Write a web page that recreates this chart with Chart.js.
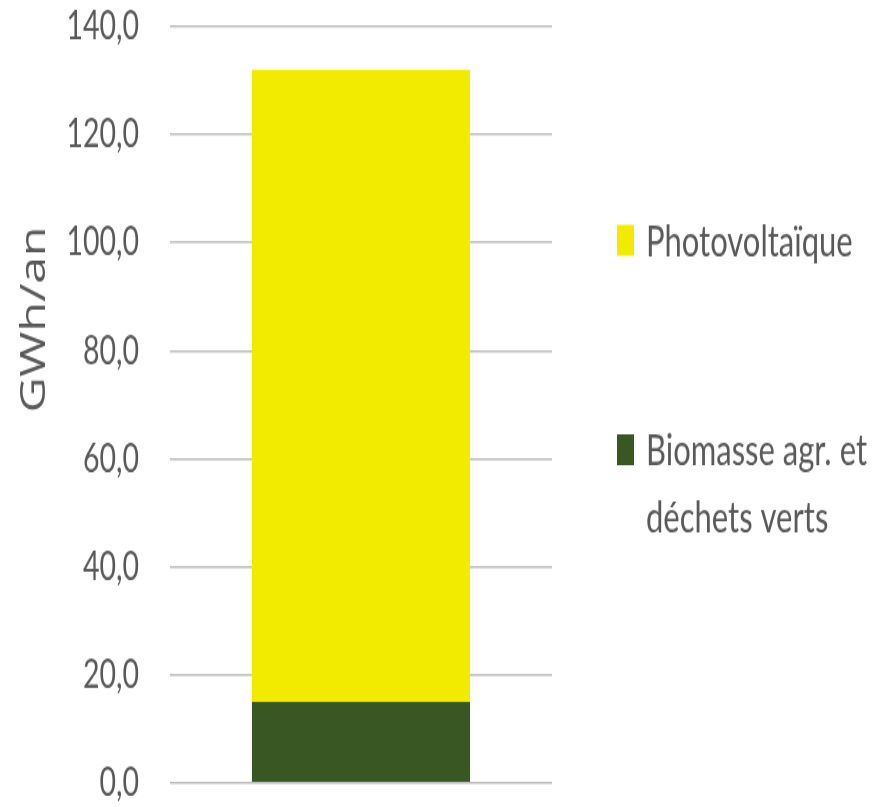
<!DOCTYPE html>
<html lang="fr">
<head>
<meta charset="utf-8">
<script src="https://cdn.jsdelivr.net/npm/chart.js@4.4.0/dist/chart.umd.min.js"></script>
<style>
html, body { margin: 0; padding: 0; background: #fff; }
/* bitmap 885x576 shown at 885x807: the reference is stretched vertically */
#chart { width: 885px; height: 807px; display: block; }
</style>
</head>
<body>
<canvas id="chart" width="885" height="576" style="width:885px;height:807px"></canvas>
<script>
// --- données ---
const categories = [''];
const biomasse = [15.0];
const photovoltaique = [117.0];
const yMin = 0;
const yMax = 140;
const yStep = 20;
const seriesLabels = ['Biomasse agr. et déchets verts', 'Photovoltaïque'];
const seriesColors = ['#385723', '#F2EB00'];
const axisTitle = 'GWh/an';

const textGrey = '#595959';

// légende à droite, ordre inversé comme dans Excel
const sideLegend = {
    id: 'sideLegend',
    afterDraw(chart, args, opts) {
        const ctx = chart.ctx;
        ctx.save();
        ctx.font = opts.font;
        ctx.textBaseline = 'alphabetic';
        const items = chart.data.datasets.slice().reverse();
        items.forEach((ds, i) => {
            const base = opts.baselines[i];
            ctx.fillStyle = ds.backgroundColor;
            ctx.fillRect(opts.boxX, base - opts.boxH, opts.boxW, opts.boxH);
            // retour à la ligne simple
            const words = ds.label.split(' ');
            const lines = [];
            let cur = '';
            words.forEach(w => {
                const test = cur ? cur + ' ' + w : w;
                if (ctx.measureText(test).width > opts.maxWidth && cur) { lines.push(cur); cur = w; }
                else cur = test;
            });
            lines.push(cur);
            ctx.fillStyle = textGrey;
            lines.forEach((l, j) => ctx.fillText(l, opts.textX, base + j * opts.lineH));
        });
        ctx.restore();
    }
};

const yTitle = {
    id: 'yTitle',
    afterDraw(chart, args, opts) {
        const ctx = chart.ctx;
        ctx.save();
        ctx.translate(opts.x, opts.y);
        ctx.rotate(-Math.PI / 2);
        ctx.font = opts.font;
        ctx.fillStyle = textGrey;
        ctx.textAlign = 'center';
        ctx.textBaseline = 'middle';
        ctx.fillText(opts.text, 0, 0);
        ctx.restore();
    }
};

const ctx = document.getElementById('chart').getContext('2d');
new Chart(ctx, {
    type: 'bar',
    data: {
        labels: categories,
        datasets: [
            { label: seriesLabels[0], data: biomasse, backgroundColor: seriesColors[0] },
            { label: seriesLabels[1], data: photovoltaique, backgroundColor: seriesColors[1] }
        ]
    },
    options: {
        responsive: false,
        animation: false,
        layout: { padding: { left: 0, right: 333, top: 19, bottom: 17 } },
        datasets: { bar: { categoryPercentage: 1, barPercentage: 0.571, borderWidth: 0 } },
        plugins: {
            legend: { display: false },
            tooltip: { enabled: false },
            sideLegend: {
                font: '31px Lato',
                boxX: 617, boxW: 17, boxH: 22,
                textX: 646,
                baselines: [182.5, 332],
                lineH: 48,
                maxWidth: 240
            },
            yTitle: { text: axisTitle, x: 35, y: 228, font: '35px "Open Sans"' }
        },
        scales: {
            x: {
                stacked: true,
                ticks: { display: false },
                grid: { display: false, drawTicks: false },
                border: { display: false },
                afterFit(s) { s.height = 0; }
            },
            y: {
                stacked: true,
                min: yMin,
                max: yMax,
                ticks: {
                    stepSize: yStep,
                    padding: 0,
                    color: textGrey,
                    font: { family: 'Lato', size: 28.5 },
                    callback: v => v.toFixed(1).replace('.', ',')
                },
                // invisible tick marks give the gap between labels and grid
                grid: { color: '#bdbdbd', lineWidth: 1.6, drawTicks: true, tickLength: 31, tickColor: 'rgba(0,0,0,0)' },
                border: { display: false },
                afterFit(s) { s.width = 170; }
            }
        }
    },
    plugins: [sideLegend, yTitle]
});
</script>
</body>
</html>
